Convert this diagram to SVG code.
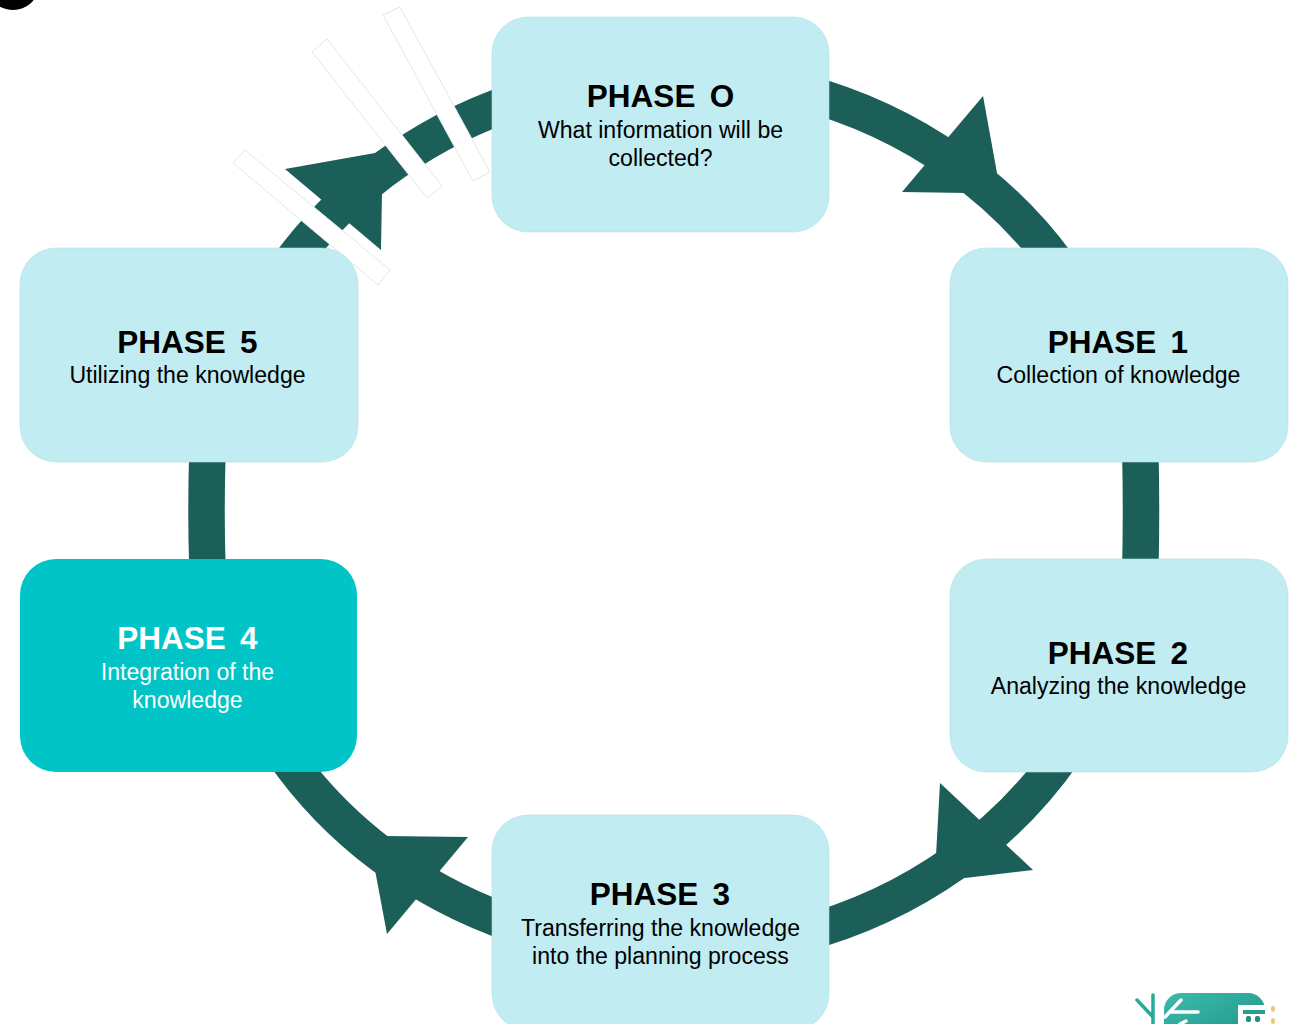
<svg xmlns="http://www.w3.org/2000/svg" width="1302" height="1024" viewBox="0 0 1302 1024">
<style>
.n{fill:#c1ecf2;stroke:#b4dfe5;stroke-width:.6}
.a{fill:#1c5e58}
.c{fill:none;stroke:#1c5e58;stroke-width:36.500px}
.s{fill:#fff;stroke:#e6e6e6;stroke-width:1}
text{font-family:"Liberation Sans",Arial,sans-serif;text-anchor:middle;fill:#000}
.t{font-size:31.500px;font-weight:700;word-spacing:5.500px}
.b{font-size:23.100px}
text.w{fill:#fff}
</style>
<defs><linearGradient id="g" x1="0" y1="0" x2="1" y2="1"><stop offset="0" stop-color="#3cbcaa"/><stop offset="1" stop-color="#1f9088"/></linearGradient></defs>
<ellipse cx="13" cy="-13" rx="25" ry="23" fill="#000"/>
<g id="connectors">
<path class="c" d="M800 91.400A466.500 438 0 0 1 1070 282.300"/>
<path class="c" d="M1140.300 450Q1141.700 513 1140.300 570"/>
<path class="c" d="M1070 743.700A466.500 438 0 0 1 800 934.600"/>
<path class="c" d="M520 926.600A466.500 438 0 0 1 277 743.700"/>
<path class="c" d="M207.500 570Q205.500 513 207.500 450"/>
<path class="c" d="M277 282.300A466.500 438 0 0 1 520 99.400"/>
<polygon class="a" points="983,96 902,192 968,193 997,173"/>
<polygon class="a" points="940,783 1033,870 965,878 936,856"/>
<polygon class="a" points="468,837 387,934 375,870 384,836"/>
<polygon class="a" points="285,169 375,153 385,146 382,192 381,250"/>
<polygon class="s" points="245,150 233,163 378,285 390,270"/>
<polygon class="s" points="327,39 312,52 427,198 442,186"/>
<polygon class="s" points="400,7 383,15 473,181 490,172"/>
</g>
<g id="phase0"><rect class="n" x="492" y="17" width="337" height="215" rx="36"/>
<text class="t" x="660.500" y="107">PHASE O</text><text class="b" x="660.500" y="138">What information will be</text><text class="b" x="660.500" y="166">collected?</text></g>
<g id="phase1"><rect class="n" x="950" y="248" width="338" height="214" rx="36"/>
<text class="t" x="1118" y="352.500">PHASE 1</text><text class="b" x="1118.500" y="383">Collection of knowledge</text></g>
<g id="phase2"><rect class="n" x="950" y="559" width="338" height="213" rx="36"/>
<text class="t" x="1118" y="663.500">PHASE 2</text><text class="b" x="1118.500" y="694">Analyzing the knowledge</text></g>
<g id="phase3"><rect class="n" x="492" y="815" width="337" height="215" rx="36"/>
<text class="t" x="660" y="905">PHASE 3</text><text class="b" x="660.500" y="936">Transferring the knowledge</text><text class="b" x="660.500" y="964">into the planning process</text></g>
<g id="phase4"><rect x="20" y="559" width="337" height="213" rx="36" fill="#00c4c6"/>
<text class="t w" x="187.500" y="648.500">PHASE 4</text><text class="b w" x="187.500" y="680">Integration of the</text><text class="b w" x="187.500" y="708">knowledge</text></g>
<g id="phase5"><rect class="n" x="20" y="248" width="338" height="214" rx="36"/>
<text class="t" x="187.500" y="352.500">PHASE 5</text><text class="b" x="187.500" y="383">Utilizing the knowledge</text></g>
<rect x="1164" y="993" width="101" height="50" rx="17" fill="url(#g)"/>
<g fill="none" stroke-linecap="round" stroke-width="3.500">
<path d="M1137 1000L1153 1017M1153 995V1024" stroke="#2aa89a"/>
<path d="M1181 1000L1165 1017M1170 1012H1198M1180 1024L1186 1021" stroke="#fff"/>
</g>
<rect x="1238" y="1005" width="27" height="22" fill="#fff"/>
<rect x="1243" y="1010" width="22" height="4" fill="#2a9c92"/>
<rect x="1246" y="1016" width="5" height="6" rx="2" fill="#1f9088"/><rect x="1255" y="1016" width="5" height="6" rx="2" fill="#1f9088"/>
<rect x="1271" y="1006" width="4" height="6" rx="2" fill="#f5c27a"/><rect x="1271" y="1018" width="4" height="6" rx="2" fill="#f5c27a"/>
</svg>
